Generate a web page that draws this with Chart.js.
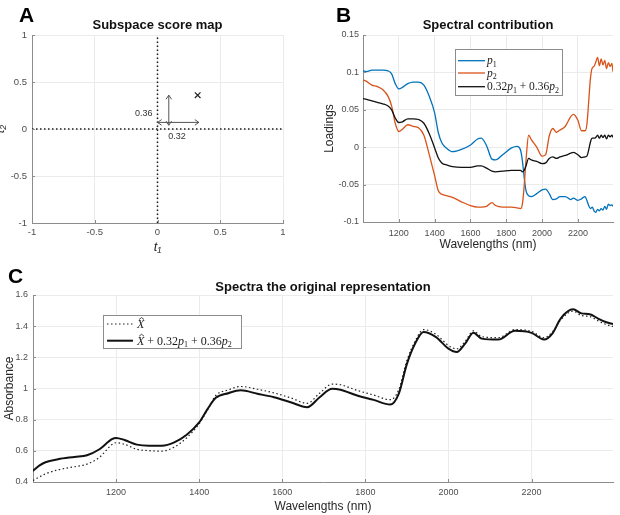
<!DOCTYPE html>
<html>
<head>
<meta charset="utf-8">
<script src="https://cdn.jsdelivr.net/npm/chart.js@4.4.1/dist/chart.umd.min.js"></script>
<style>
  html, body { margin: 0; padding: 0; background: #fff; }
  #wrap { position: relative; width: 620px; height: 515px; overflow: hidden; background: #fff; }
  canvas { position: absolute; }
</style>
</head>
<body>
<div id="wrap">
  <canvas id="chartA" width="300" height="258" style="left:0;top:0;width:300px;height:258px"></canvas>
  <canvas id="chartB" width="320" height="258" style="left:300px;top:0;width:320px;height:258px"></canvas>
  <canvas id="chartC" width="620" height="257" style="left:0;top:258px;width:620px;height:257px"></canvas>
</div>
<script>
// ---- Panel A : subspace score map ----
const scoreT1 = [0.32];
const scoreT2 = [0.36];
const scoreTicks = [-1, -0.5, 0, 0.5, 1];
const axisSpan = [-1, 1];
const axisZero = [0, 0];
const arrowT1X = [0, 0.33];
const arrowT1Y = [0.07, 0.07];
const arrowT2X = [0.09, 0.09];
const arrowT2Y = [0.04, 0.36];

// ---- Panel B : loadings ----
const wavelengthsB = [1000, 1020, 1050, 1080, 1110, 1140, 1160, 1180, 1200, 1220, 1250, 1280, 1310, 1340, 1370,
  1400, 1420, 1440, 1470, 1500, 1550, 1600, 1640, 1660, 1690, 1720, 1740, 1780, 1830, 1860, 1880, 1890, 1900,
  1910, 1925, 1940, 1970, 2000, 2020, 2040, 2060, 2080, 2100, 2130, 2160, 2175, 2200, 2220, 2240, 2250, 2260,
  2270, 2280, 2290, 2300, 2310, 2320, 2330, 2340, 2350, 2360, 2370, 2380, 2390, 2396];
const loadingP1 = [0.102, 0.101, 0.103, 0.103, 0.103, 0.102, 0.098, 0.085, 0.078, 0.080, 0.085, 0.087, 0.087, 0.083, 0.068,
  0.046, 0.020, 0.006, -0.002, -0.006, -0.003, 0.003, 0.011, 0.012, 0.002, -0.016, -0.017, -0.010, -0.001, 0.001, -0.004, -0.018, -0.040,
  -0.058, -0.065, -0.066, -0.062, -0.057, -0.056, -0.062, -0.070, -0.069, -0.066, -0.066, -0.070, -0.068, -0.071, -0.069, -0.066, -0.071, -0.078,
  -0.082, -0.080, -0.085, -0.087, -0.083, -0.085, -0.082, -0.084, -0.079, -0.083, -0.076, -0.078, -0.077, -0.079];
const loadingP2 = [0.090, 0.088, 0.083, 0.081, 0.077, 0.068, 0.055, 0.032, 0.021, 0.024, 0.030, 0.028, 0.026, 0.016, -0.010,
  -0.038, -0.058, -0.063, -0.065, -0.067, -0.073, -0.078, -0.080, -0.080, -0.079, -0.074, -0.078, -0.080, -0.080, -0.081, -0.082, -0.076, -0.052,
  -0.018, 0.016, 0.010, 0.000, -0.012, -0.010, 0.015, 0.025, 0.020, 0.023, 0.028, 0.041, 0.044, 0.036, 0.022, 0.022, 0.030, 0.060,
  0.092, 0.106, 0.108, 0.114, 0.120, 0.109, 0.118, 0.110, 0.116, 0.105, 0.113, 0.108, 0.112, 0.101];
const loadingMix = [0.065, 0.064, 0.062, 0.060, 0.058, 0.055, 0.050, 0.039, 0.033, 0.034, 0.038, 0.038, 0.037, 0.032, 0.018,
  -0.001, -0.014, -0.021, -0.024, -0.026, -0.027, -0.027, -0.025, -0.025, -0.028, -0.032, -0.033, -0.032, -0.031, -0.031, -0.031, -0.033, -0.031,
  -0.025, -0.015, -0.017, -0.019, -0.022, -0.021, -0.015, -0.013, -0.015, -0.013, -0.011, -0.008, -0.007, -0.010, -0.014, -0.013, -0.012, -0.004,
  0.007, 0.012, 0.012, 0.013, 0.016, 0.012, 0.016, 0.013, 0.016, 0.011, 0.016, 0.014, 0.016, 0.013];
const loadingTicks = [-0.1, -0.05, 0, 0.05, 0.1, 0.15];

// ---- Panel C : spectra ----
const wavelengthsC = [1000, 1015, 1030, 1060, 1100, 1130, 1160, 1190, 1200, 1220, 1250, 1280, 1310, 1340, 1370, 1400,
  1420, 1440, 1470, 1500, 1540, 1580, 1620, 1660, 1690, 1720, 1740, 1780, 1820, 1860, 1880, 1900, 1920, 1940,
  1970, 2000, 2020, 2040, 2060, 2080, 2120, 2160, 2200, 2230, 2250, 2270, 2300, 2320, 2340, 2360, 2380, 2396];
const absorbanceXhat = [0.410, 0.432, 0.452, 0.478, 0.498, 0.515, 0.558, 0.640, 0.652, 0.642, 0.610, 0.601, 0.598, 0.624, 0.684, 0.774,
  0.862, 0.955, 0.991, 1.013, 0.995, 0.972, 0.940, 0.905, 0.970, 1.028, 1.024, 0.988, 0.958, 0.928, 0.990, 1.180, 1.305, 1.378,
  1.348, 1.276, 1.254, 1.302, 1.370, 1.333, 1.326, 1.378, 1.366, 1.326, 1.362, 1.440, 1.496, 1.468, 1.462, 1.434, 1.410, 1.398];
const absorbanceShifted = [0.471, 0.505, 0.527, 0.546, 0.561, 0.572, 0.610, 0.675, 0.683, 0.670, 0.640, 0.633, 0.633, 0.654, 0.703, 0.782,
  0.868, 0.940, 0.970, 0.988, 0.966, 0.944, 0.912, 0.880, 0.944, 0.998, 0.992, 0.955, 0.927, 0.897, 0.964, 1.158, 1.290, 1.363,
  1.330, 1.256, 1.234, 1.288, 1.357, 1.320, 1.314, 1.370, 1.357, 1.314, 1.352, 1.449, 1.508, 1.482, 1.477, 1.449, 1.425, 1.413];
const absorbanceTicks = [0.4, 0.6, 0.8, 1, 1.2, 1.4, 1.6];
const wavelengthTicks = [1200, 1400, 1600, 1800, 2000, 2200];

const SANS = '"Liberation Sans", Arial, Helvetica, sans-serif';
const SERIF = '"Liberation Serif", "Times New Roman", serif';
const GRID = '#ebebeb';
const AXIS = '#8c8c8c';
const TICK_TXT = '#4d4d4d';
const LABEL_TXT = '#262626';
const BLUE = '#0072bd';
const ORANGE = '#d95319';

const pts = (xs, ys) => xs.map((x, i) => ({ x, y: ys[i] }));

function linAxis(min, max, ticks, fit, tickSize, tickPad, title) {
  return {
    type: 'linear',
    min, max,
    afterBuildTicks: (s) => { s.ticks = ticks.map((v) => ({ value: v })); },
    afterFit: (s) => { if (s.isHorizontal()) s.height = fit; else s.width = fit; },
    grid: { color: GRID, lineWidth: 1, drawTicks: false },
    border: { display: true, color: AXIS, width: 1 },
    ticks: {
      color: TICK_TXT, padding: tickPad, autoSkip: false, maxRotation: 0,
      font: { family: SANS, size: tickSize },
      callback: (v) => String(v),
    },
    title,
  };
}

function axisTitle(text, font, padding) {
  return { display: true, text, color: LABEL_TXT, font, padding };
}

function panelTitle(text, top, bottom) {
  return {
    display: true, text, fullSize: false, color: '#111',
    font: { family: SANS, size: 13, weight: 'bold', lineHeight: 1.2 },
    padding: { top, bottom },
  };
}

// little math-style text: [text, kind] kind n=normal, i=italic, s=subscript, hat=italic with accent
function drawMath(ctx, segs, x, y, size) {
  ctx.fillStyle = '#1a1a1a';
  ctx.textBaseline = 'alphabetic';
  ctx.textAlign = 'left';
  for (const [txt, kind] of segs) {
    let font = `${size}px ${SERIF}`;
    let dy = 0;
    if (kind === 'i' || kind === 'hat') font = `italic ${size}px ${SERIF}`;
    if (kind === 's') { font = `${Math.round(size * 0.68)}px ${SERIF}`; dy = size * 0.22; }
    ctx.font = font;
    ctx.fillText(txt, x, y + dy);
    const w = ctx.measureText(txt).width;
    if (kind === 'hat') {
      const cx = x + w * 0.62, top = y - size * 0.8;
      ctx.beginPath();
      ctx.lineWidth = 0.8;
      ctx.strokeStyle = '#1a1a1a';
      ctx.moveTo(cx - 2.5, top + 1.2);
      ctx.lineTo(cx, top - 0.8);
      ctx.lineTo(cx + 2.5, top + 1.2);
      ctx.stroke();
    }
    x += w;
  }
}

function arrowHead(ctx, tip, from) {
  const ang = Math.atan2(tip.y - from.y, tip.x - from.x);
  const L = 5, sp = 0.6;
  ctx.beginPath();
  ctx.moveTo(tip.x - L * Math.cos(ang - sp), tip.y - L * Math.sin(ang - sp));
  ctx.lineTo(tip.x, tip.y);
  ctx.lineTo(tip.x - L * Math.cos(ang + sp), tip.y - L * Math.sin(ang + sp));
  ctx.stroke();
}

const decorPlugin = {
  id: 'decor',
  afterDraw(chart, args, opts) {
    const { ctx, chartArea: a } = chart;
    ctx.save();

    // inward tick marks like matlab
    ctx.strokeStyle = AXIS;
    ctx.lineWidth = 1;
    Object.values(chart.scales).forEach((s) => {
      s.ticks.forEach((t) => {
        const p = Math.round(s.getPixelForValue(t.value)) + 0.5;
        ctx.beginPath();
        if (s.isHorizontal()) { ctx.moveTo(p, a.bottom); ctx.lineTo(p, a.bottom - 3); }
        else { ctx.moveTo(a.left, p); ctx.lineTo(a.left + 3, p); }
        ctx.stroke();
      });
    });

    // arrow heads on both ends
    chart.data.datasets.forEach((ds, i) => {
      if (!ds.arrow) return;
      const el = chart.getDatasetMeta(i).data;
      ctx.strokeStyle = ds.borderColor;
      ctx.lineWidth = ds.borderWidth;
      arrowHead(ctx, el[1], el[0]);
      arrowHead(ctx, el[0], el[1]);
    });

    // small value notes
    (opts.notes || []).forEach((n) => {
      ctx.font = `9px ${SANS}`;
      ctx.fillStyle = '#333';
      ctx.textAlign = 'center';
      ctx.textBaseline = 'middle';
      ctx.fillText(n.text, chart.scales.x.getPixelForValue(n.x), chart.scales.y.getPixelForValue(n.y));
    });

    // legend box
    const lg = opts.legend;
    if (lg) {
      const x0 = a.left + lg.dx, y0 = a.top + lg.dy;
      ctx.fillStyle = '#fff';
      ctx.fillRect(x0, y0, lg.w, lg.h);
      ctx.strokeStyle = '#8c8c8c';
      ctx.lineWidth = 1;
      ctx.strokeRect(Math.round(x0) + 0.5, Math.round(y0) + 0.5, lg.w, lg.h);
      lg.items.forEach((it, i) => {
        const ds = chart.data.datasets[it.ds];
        const y = y0 + lg.rows[i];
        ctx.strokeStyle = ds.borderColor;
        ctx.lineWidth = ds.borderWidth;
        ctx.setLineDash(ds.borderDash || []);
        ctx.beginPath();
        ctx.moveTo(x0 + lg.lineX[0], y);
        ctx.lineTo(x0 + lg.lineX[1], y);
        ctx.stroke();
        ctx.setLineDash([]);
        drawMath(ctx, it.math, x0 + lg.textX, y + lg.size * 0.33, lg.size);
      });
    }

    // panel letter
    ctx.font = `bold 21px ${SANS}`;
    ctx.fillStyle = '#000';
    ctx.textAlign = 'left';
    ctx.textBaseline = 'alphabetic';
    ctx.fillText(opts.letter, opts.letterX, opts.letterY);
    ctx.restore();
  },
};

const common = {
  responsive: false,
  animation: false,
  events: [],
};

// ---------- A ----------
new Chart(document.getElementById('chartA'), {
  type: 'scatter',
  data: {
    datasets: [
      { data: pts(axisSpan, axisZero), showLine: true, borderColor: '#1a1a1a', borderWidth: 1.5, borderDash: [1.5, 2.5], pointRadius: 0 },
      { data: pts(axisZero, axisSpan), showLine: true, borderColor: '#1a1a1a', borderWidth: 1.5, borderDash: [1.5, 2.5], pointRadius: 0 },
      { data: pts(arrowT1X, arrowT1Y), showLine: true, borderColor: '#555', borderWidth: 1, pointRadius: 0, arrow: true },
      { data: pts(arrowT2X, arrowT2Y), showLine: true, borderColor: '#555', borderWidth: 1, pointRadius: 0, arrow: true },
      { data: pts(scoreT1, scoreT2), showLine: false, pointStyle: 'crossRot', pointRadius: 4, borderColor: '#222', borderWidth: 1.2, order: -1 },
    ],
  },
  options: {
    ...common,
    layout: { padding: { left: 0, right: 17, top: 0, bottom: 0 } },
    plugins: {
      legend: { display: false },
      tooltip: { enabled: false },
      title: panelTitle('Subspace score map', 18, 1.4),
      decor: {
        letter: 'A', letterX: 19, letterY: 22,
        notes: [
          { text: String(scoreT2[0]), x: -0.11, y: 0.17 },
          { text: String(scoreT1[0]), x: 0.155, y: -0.085 },
        ],
      },
    },
    scales: {
      x: linAxis(-1, 1, scoreTicks, 35, 9.5, 4,
        axisTitle('t₁', { family: SANS, size: 13, style: 'italic', lineHeight: 1.2 }, { top: 0, bottom: 3 })),
      y: linAxis(-1, 1, scoreTicks, 32, 9.5, 5,
        axisTitle('t₂', { family: SANS, size: 13, style: 'italic', lineHeight: 1.2 }, { top: -7, bottom: 0 })),
    },
  },
  plugins: [decorPlugin],
});

// ---------- B ----------
new Chart(document.getElementById('chartB'), {
  type: 'scatter',
  data: {
    datasets: [
      { data: pts(wavelengthsB, loadingP1), showLine: true, borderColor: BLUE, borderWidth: 1.3, pointRadius: 0, cubicInterpolationMode: 'monotone', order: 2 },
      { data: pts(wavelengthsB, loadingP2), showLine: true, borderColor: ORANGE, borderWidth: 1.3, pointRadius: 0, cubicInterpolationMode: 'monotone', order: 1 },
      { data: pts(wavelengthsB, loadingMix), showLine: true, borderColor: '#111', borderWidth: 1.3, pointRadius: 0, cubicInterpolationMode: 'monotone', order: 0 },
    ],
  },
  options: {
    ...common,
    layout: { padding: { left: 0, right: 7, top: 0, bottom: 0 } },
    plugins: {
      legend: { display: false },
      tooltip: { enabled: false },
      title: panelTitle('Spectral contribution', 18, 1.4),
      decor: {
        letter: 'B', letterX: 36, letterY: 22,
        legend: {
          dx: 92, dy: 14, w: 107, h: 46, rows: [11.7, 24, 37.7], lineX: [3, 30], textX: 32, size: 11.5,
          items: [
            { ds: 0, math: [['p', 'i'], ['1', 's']] },
            { ds: 1, math: [['p', 'i'], ['2', 's']] },
            { ds: 2, math: [[String(scoreT1[0]), 'n'], ['p', 'i'], ['1', 's'], [' + ' + scoreT2[0], 'n'], ['p', 'i'], ['2', 's']] },
          ],
        },
      },
    },
    scales: {
      x: linAxis(1000, 2396, wavelengthTicks, 36, 9, 6.5,
        axisTitle('Wavelengths (nm)', { family: SANS, size: 12, lineHeight: 1.2 }, { top: 0, bottom: 5.8 })),
      y: linAxis(-0.1, 0.15, loadingTicks, 63, 9, 4,
        axisTitle('Loadings', { family: SANS, size: 12, lineHeight: 1.2 }, { top: 22.8, bottom: 0 })),
    },
  },
  plugins: [decorPlugin],
});

// ---------- C ----------
new Chart(document.getElementById('chartC'), {
  type: 'scatter',
  data: {
    datasets: [
      { data: pts(wavelengthsC, absorbanceXhat), showLine: true, borderColor: '#222', borderWidth: 1.2, borderDash: [1.5, 2.5], pointRadius: 0, cubicInterpolationMode: 'monotone', order: 1 },
      { data: pts(wavelengthsC, absorbanceShifted), showLine: true, borderColor: '#111', borderWidth: 2, pointRadius: 0, cubicInterpolationMode: 'monotone', order: 0 },
    ],
  },
  options: {
    ...common,
    layout: { padding: { left: 0, right: 7, top: 0, bottom: 0 } },
    plugins: {
      legend: { display: false },
      tooltip: { enabled: false },
      title: panelTitle('Spectra the original representation', 21.2, 0.2),
      decor: {
        letter: 'C', letterX: 8, letterY: 25,
        legend: {
          dx: 70, dy: 20, w: 138, h: 33, rows: [9, 25.7], lineX: [4, 30], textX: 34, size: 12,
          items: [
            { ds: 0, math: [['X', 'hat']] },
            { ds: 1, math: [['X', 'hat'], [' + ' + scoreT1[0], 'n'], ['p', 'i'], ['1', 's'], [' + ' + scoreT2[0], 'n'], ['p', 'i'], ['2', 's']] },
          ],
        },
      },
    },
    scales: {
      x: linAxis(1000, 2396, wavelengthTicks, 33, 9, 5.6,
        axisTitle('Wavelengths (nm)', { family: SANS, size: 12, lineHeight: 1.2 }, { top: 0, bottom: 0.8 })),
      y: linAxis(0.4, 1.6, absorbanceTicks, 33, 9, 5,
        axisTitle('Absorbance', { family: SANS, size: 12, lineHeight: 1.2 }, { top: 2.8, bottom: 0 })),
    },
  },
  plugins: [decorPlugin],
});
</script>
</body>
</html>
